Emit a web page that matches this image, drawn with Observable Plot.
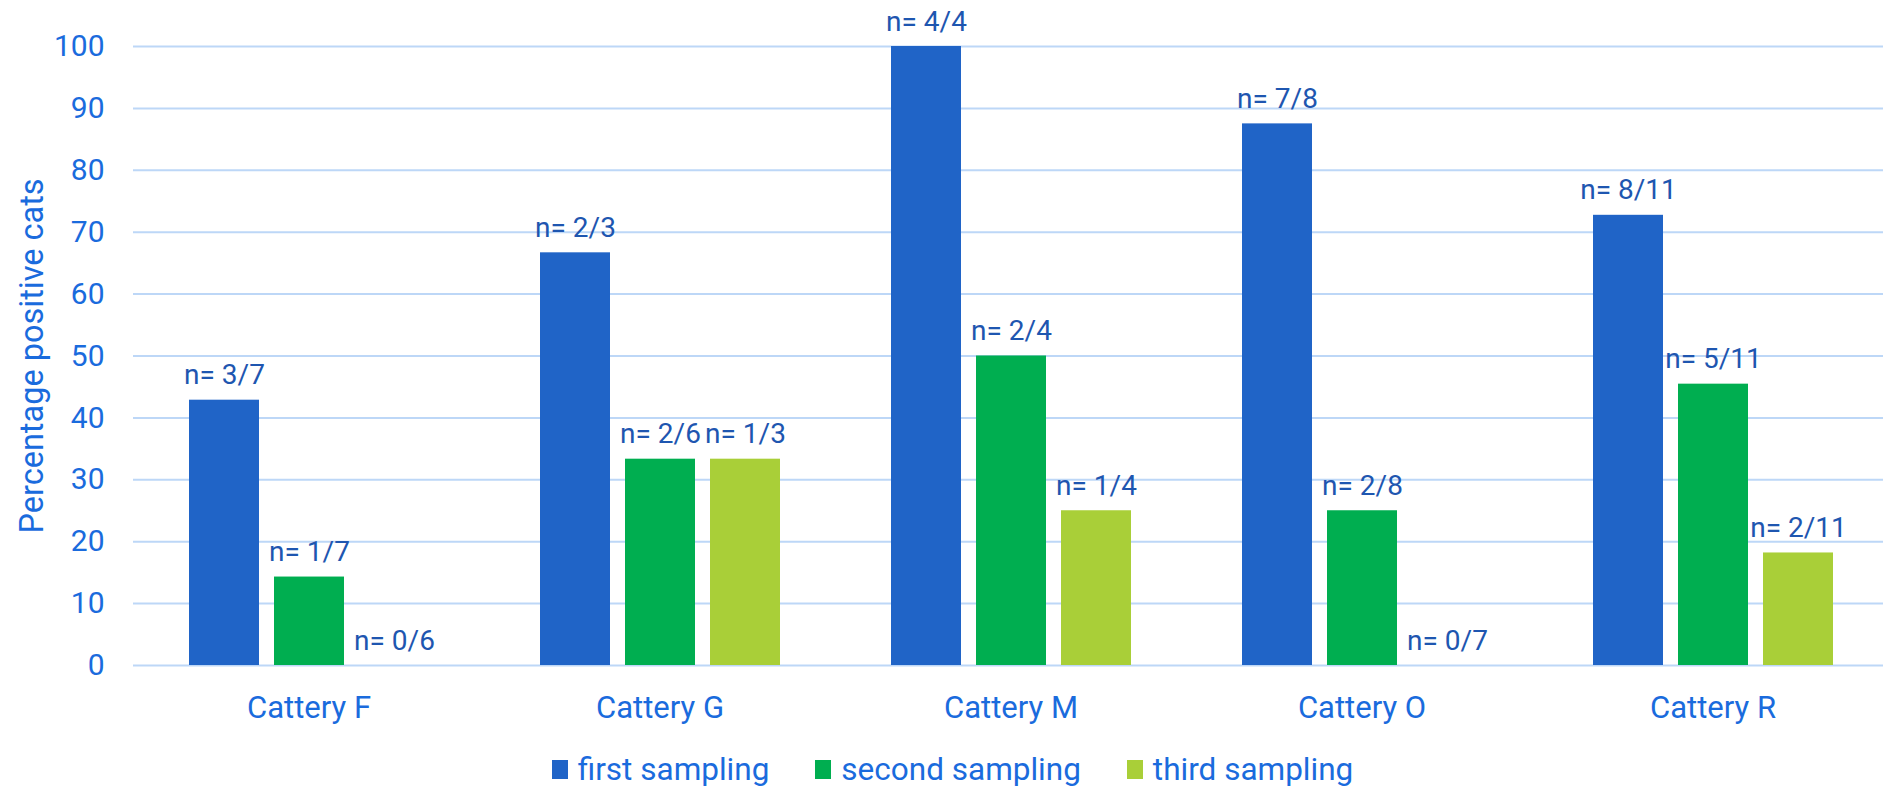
<!DOCTYPE html>
<html>
<head>
<meta charset="utf-8">
<script src="https://cdn.jsdelivr.net/npm/d3@7"></script>
<script src="https://cdn.jsdelivr.net/npm/@observablehq/plot@0.6"></script>
<style>
  html, body { margin: 0; padding: 0; background: #fff; overflow: hidden; }
  #chart svg { display: block; overflow: hidden; }
  #legend { display: flex; justify-content: center; align-items: center; gap: 46px;
            font-family: Roboto, sans-serif; font-size: 31.5px; color: #1A6BDD;
            height: 55px; margin-top: 7px; margin-left: 22px; }
  #legend .item { display: flex; align-items: center; gap: 10px; }
  #legend .sw { width: 16px; height: 19px; display: inline-block; }
</style>
</head>
<body>
<div id="chart"></div>
<div id="legend"></div>
<script>
const categories = ["Cattery F", "Cattery G", "Cattery M", "Cattery O", "Cattery R"];
const series = ["first sampling", "second sampling", "third sampling"];
const firstValues  = [42.86, 66.67, 100, 87.5, 72.73];
const secondValues = [14.29, 33.33, 50, 25, 45.45];
const thirdValues  = [0, 33.33, 25, 0, 18.18];
const firstLabels  = ["n= 3/7", "n= 2/3", "n= 4/4", "n= 7/8", "n= 8/11"];
const secondLabels = ["n= 1/7", "n= 2/6", "n= 2/4", "n= 2/8", "n= 5/11"];
const thirdLabels  = ["n= 0/6", "n= 1/3", "n= 1/4", "n= 0/7", "n= 2/11"];
const yTicks = [0, 10, 20, 30, 40, 50, 60, 70, 80, 90, 100];
const yTitle = "Percentage positive cats";
const colors = ["#2064C7", "#00AE50", "#A9CF38"];

const valueSets = [firstValues, secondValues, thirdValues];
const labelSets = [firstLabels, secondLabels, thirdLabels];
const data = [];
categories.forEach((c, i) => {
  series.forEach((s, j) => {
    data.push({cat: c, series: s, value: valueSets[j][i], label: labelSets[j][i]});
  });
});

const tickColor = "#1A6BDD";
const labelColor = "#1E56B0";

const chart = Plot.plot({
  width: 1883,
  height: 735,
  marginTop: 46,
  marginBottom: 70,
  marginLeft: 131,
  marginRight: -7,
  style: {fontFamily: "Roboto, sans-serif", background: "#fff"},
  fx: {domain: categories, padding: 0, label: null},
  x: {domain: series, paddingInner: 0.18, paddingOuter: 0.65, axis: null},
  y: {domain: [0, 100], label: null},
  color: {domain: series, range: colors},
  marks: [
    Plot.gridY(yTicks, {stroke: "#BDD7F7", strokeOpacity: 1, strokeWidth: 2}),
    Plot.axisY(yTicks, {tickSize: 0, tickPadding: 29, fontSize: 30, fill: tickColor, label: null}),
    Plot.axisFx({anchor: "bottom", tickSize: 0, tickPadding: 30, fontSize: 31, fill: tickColor, label: null}),
    Plot.barY(data, {fx: "cat", x: "series", y: "value", fill: "series"}),
    Plot.text(data, {fx: "cat", x: "series", y: "value", text: "label", lineAnchor: "bottom", dy: -16, fontSize: 28, fill: labelColor}),
    Plot.text([yTitle], {fx: [categories[0]], frameAnchor: "left", textAnchor: "middle", rotate: -90, dx: -101, fontSize: 32.5, fill: tickColor})
  ]
});
document.getElementById("chart").appendChild(chart);

const legend = document.getElementById("legend");
series.forEach((s, j) => {
  const item = document.createElement("div");
  item.className = "item";
  const sw = document.createElement("span");
  sw.className = "sw";
  sw.style.background = colors[j];
  const t = document.createElement("span");
  t.textContent = s;
  item.appendChild(sw);
  item.appendChild(t);
  legend.appendChild(item);
});
</script>
</body>
</html>
